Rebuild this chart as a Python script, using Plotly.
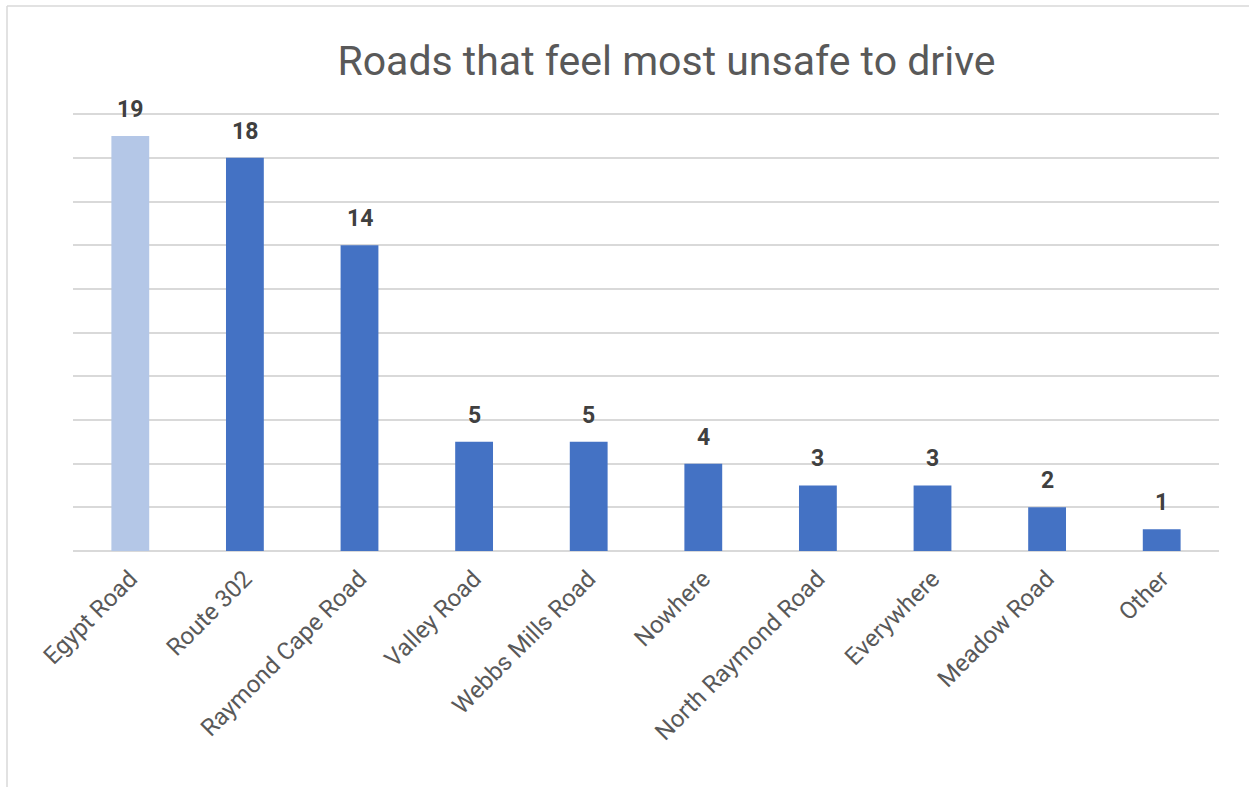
import plotly.graph_objects as go

categories = ["Egypt Road", "Route 302", "Raymond Cape Road", "Valley Road", "Webbs Mills Road",
              "Nowhere", "North Raymond Road", "Everywhere", "Meadow Road", "Other"]
values = [19, 18, 14, 5, 5, 4, 3, 3, 2, 1]
bar_colors = ["#b4c7e7"] + ["#4472c4"] * 9
title_text = "Roads that feel most unsafe to drive"
grid_ticks = [0, 2, 4, 6, 8, 10, 12, 14, 16, 18, 20]

W, H = 1249, 787
L, R, T, B = 73, 30, 112, 236

fig = go.Figure()
fig.add_trace(go.Bar(
    x=categories, y=values, marker=dict(color=bar_colors, line=dict(width=0)),
    width=0.33, hoverinfo="skip",
))

for c, v in zip(categories, values):
    fig.add_annotation(x=c, y=v, text=f"<b>{v}</b>", showarrow=False, yanchor="bottom",
                       yshift=11, font=dict(family="Roboto", size=23, color="#404040"))

pw = W - L - R
ph = H - T - B
fig.add_shape(type="line", xref="paper", yref="paper",
              x0=(7 - L) / pw, x1=(W + 5 - L) / pw, y0=(H - B - 6) / ph, y1=(H - B - 6) / ph,
              line=dict(color="#d9d9d9", width=1.5))
fig.add_shape(type="line", xref="paper", yref="paper",
              x0=(7 - L) / pw, x1=(7 - L) / pw, y0=(H - B - 6) / ph, y1=(H - B - 790) / ph,
              line=dict(color="#d9d9d9", width=1.5))

fig.update_layout(
    width=W, height=H,
    margin=dict(l=L, r=R, t=T, b=B, autoexpand=False),
    paper_bgcolor="white", plot_bgcolor="white",
    showlegend=False,
    title=dict(text=title_text, x=666.5 / W, xanchor="center", y=1 - 61 / H, yanchor="middle",
               font=dict(family="Roboto", size=41, color="#595959")),
    xaxis=dict(tickangle=-45, tickfont=dict(family="Roboto", size=24, color="#595959"),
               showgrid=False, showline=False, ticks="", ticklabelstandoff=8),
    yaxis=dict(range=[0, 20.1], tickvals=grid_ticks,
               showticklabels=False, gridcolor="#d9d9d9", gridwidth=1.5,
               zeroline=True, zerolinecolor="#d9d9d9", zerolinewidth=1.5, showline=False),
    bargap=0.67,
)

fig.write_html("out.html")
